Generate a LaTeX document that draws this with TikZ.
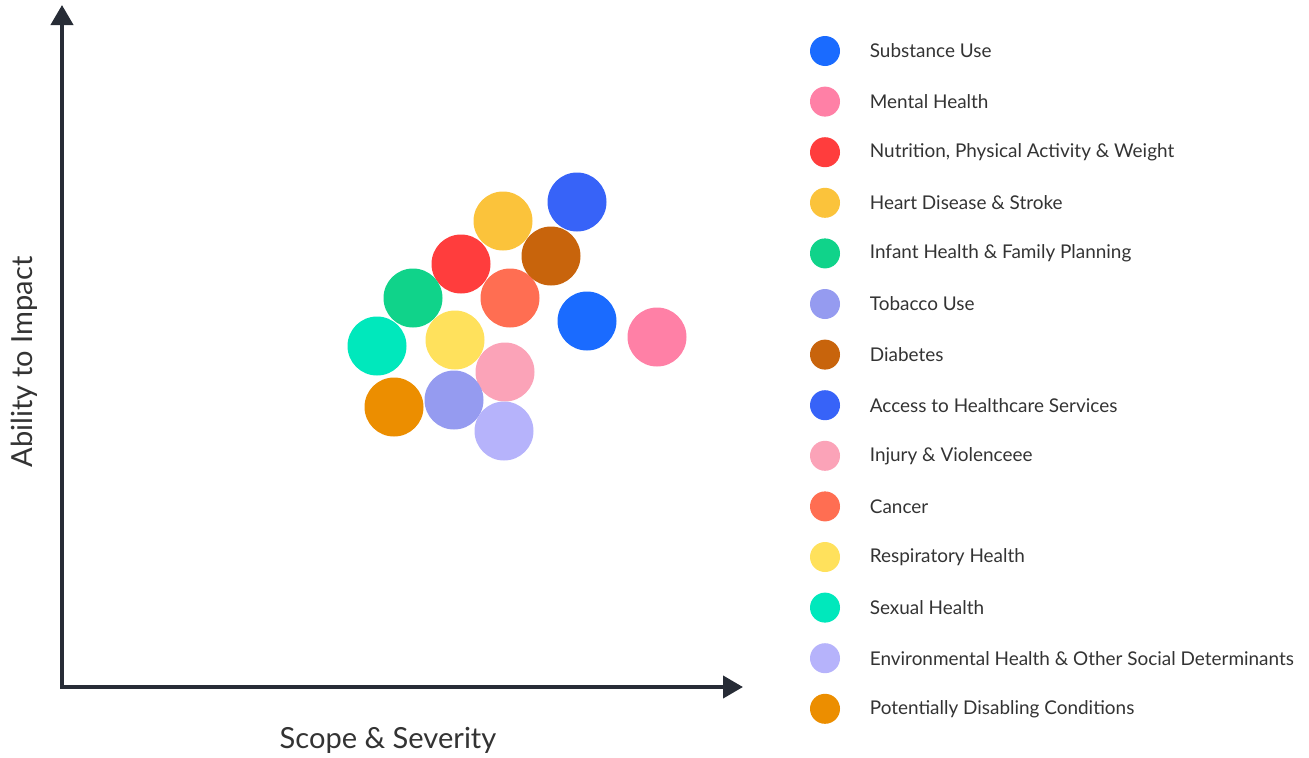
\documentclass[tikz,border=0pt]{standalone}
\usepackage{fontspec}
\setmainfont{Lato}
\usetikzlibrary{arrows.meta,positioning}
\definecolor{axiscol}{HTML}{272C36}
\definecolor{txtcol}{HTML}{333333}
\definecolor{csubst}{HTML}{1A6BFF}
\definecolor{cmental}{HTML}{FF80A6}
\definecolor{cnutri}{HTML}{FF3D3D}
\definecolor{cheart}{HTML}{FBC33B}
\definecolor{cinfant}{HTML}{10D38A}
\definecolor{ctobac}{HTML}{959BF0}
\definecolor{cdiab}{HTML}{C8640C}
\definecolor{caccess}{HTML}{3763F8}
\definecolor{cinjury}{HTML}{FBA3B8}
\definecolor{ccancer}{HTML}{FF6E52}
\definecolor{cresp}{HTML}{FFE15C}
\definecolor{csexual}{HTML}{00E8BC}
\definecolor{cenviro}{HTML}{B6B3FB}
\definecolor{cdisab}{HTML}{EC8E00}
\tikzset{font=\fontsize{14.2}{17}\selectfont}
\tikzset{
  axis/.style={draw=axiscol,line width=3pt,{Triangle[length=15pt,width=16.5pt]}-{Triangle[length=15pt,width=16.5pt]}},
  bubble/.style={circle,inner sep=0pt,minimum size=44.25pt},
  keydot/.style={circle,inner sep=0pt,minimum size=22.5pt},
  keytext/.style={right=22pt of #1,anchor=west,text=txtcol,inner sep=0pt},
  axislabel/.style={text=txtcol,font=\fontsize{21.8}{25}\selectfont}
}

\begin{document}
\begin{tikzpicture}[x=0.75pt,y=-0.75pt]
  \useasboundingbox (0,0) rectangle (1309,757);
  % axes
  \coordinate (o) at (62,687);
  \coordinate (ytop) at (62,5);
  \coordinate (xend) at (743,687);
  \draw[axis] (ytop) -- (o) -- (xend);
  \node[axislabel] (xlab) at (388,740) {Scope \& Severity};
  \node[axislabel,rotate=90] (ylab) at (24,362) {Ability to Impact};
  % bubbles
  \foreach \n/\c/\x/\y in {access/caccess/577/202, heart/cheart/503/221,
      diab/cdiab/551/256, nutri/cnutri/461/264, infant/cinfant/413/298,
      cancer/ccancer/510/298, subst/csubst/587/321, mental/cmental/657/337,
      sexual/csexual/377/346, resp/cresp/455/340, injury/cinjury/505/372,
      disab/cdisab/394/407, tobac/ctobac/454/400, enviro/cenviro/504/431}{
    \node[bubble,fill=\c] (b-\n) at (\x,\y) {};
  }
  % legend
  \foreach \i/\c/\t in {0/csubst/{Substance Use}, 1/cmental/{Mental Health},
      2/cnutri/{Nutrition, Physical Activity \& Weight},
      3/cheart/{Heart Disease \& Stroke},
      4/cinfant/{Infant Health \& Family Planning}, 5/ctobac/{Tobacco Use},
      6/cdiab/{Diabetes}, 7/caccess/{Access to Healthcare Services},
      8/cinjury/{Injury \& Violenceee}, 9/ccancer/{Cancer},
      10/cresp/{Respiratory Health}, 11/csexual/{Sexual Health},
      12/cenviro/{Environmental Health \& Other Social Determinants},
      13/cdisab/{Potentially Disabling Conditions}}{
    \node[keydot,fill=\c] (k\i) at (825,51+50.6*\i) {};
    \node[keytext=k\i] (t\i) {\t};
  }
\end{tikzpicture}
\end{document}
